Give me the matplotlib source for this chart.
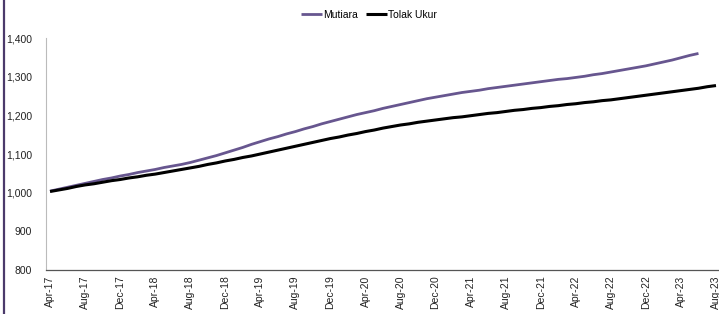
import matplotlib
matplotlib.use("Agg")
import matplotlib.pyplot as plt
from matplotlib.lines import Line2D

plt.rcParams['font.family'] = ['Liberation Sans', 'DejaVu Sans']

# Data: monthly index values, Apr-17 onwards
mutiara = [
    1004, 1009, 1014, 1019, 1024, 1029, 1034, 1038, 1043, 1047, 1052, 1056,
    1060, 1065, 1069, 1073, 1078, 1084, 1090, 1096, 1103, 1110, 1117, 1125,
    1132, 1139, 1145, 1152, 1158, 1165, 1171, 1178, 1184, 1190, 1196, 1202,
    1207, 1212, 1218, 1223, 1228, 1233, 1238, 1243, 1247, 1251, 1255, 1259,
    1262, 1265, 1269, 1272, 1275, 1278, 1281, 1284, 1287, 1290, 1293, 1295,
    1298, 1301, 1305, 1308, 1312, 1316, 1320, 1324, 1328, 1333, 1338, 1343,
    1349, 1355, 1360,
]
tolak_ukur = [
    1003, 1007, 1011, 1016, 1020, 1023, 1027, 1031, 1034, 1038, 1041, 1045,
    1048, 1052, 1056, 1060, 1064, 1068, 1073, 1077, 1082, 1086, 1091, 1095,
    1100, 1105, 1110, 1115, 1120, 1125, 1130, 1135, 1140, 1144, 1149, 1153,
    1158, 1162, 1167, 1171, 1175, 1178, 1182, 1185, 1188, 1191, 1194, 1196,
    1199, 1202, 1205, 1207, 1210, 1213, 1215, 1218, 1220, 1223, 1225, 1228,
    1230, 1233, 1235, 1238, 1240, 1243, 1246, 1249, 1252, 1255, 1258, 1261,
    1264, 1267, 1270, 1274, 1277,
]
tick_labels = [
    "Apr-17", "Aug-17", "Dec-17", "Apr-18", "Aug-18", "Dec-18", "Apr-19",
    "Aug-19", "Dec-19", "Apr-20", "Aug-20", "Dec-20", "Apr-21", "Aug-21",
    "Dec-21", "Apr-22", "Aug-22", "Dec-22", "Apr-23", "Aug-23",
]
y_ticks = [800, 900, 1000, 1100, 1200, 1300, 1400]

fig = plt.figure(figsize=(7.19, 3.14), dpi=100)
ax = fig.add_axes([46 / 719, 44 / 314, 694 / 719, 232 / 314])

ax.plot(range(len(mutiara)), mutiara, color='#67568F', lw=2.0,
        solid_capstyle='butt', label='Mutiara')
ax.plot(range(len(tolak_ukur)), tolak_ukur, color='black', lw=2.2,
        solid_capstyle='butt', label='Tolak Ukur')

ax.set_ylim(800, 1400)
ax.set_xlim(-0.46, 78.74)
ax.set_yticks(y_ticks)
ax.set_yticklabels([f"{v:,}" for v in y_ticks])
ax.set_xticks(range(0, 4 * len(tick_labels), 4))
ax.set_xticklabels(tick_labels, rotation=90)
ax.tick_params(axis='both', length=0, labelsize=7.5, colors='#222222')
ax.tick_params(axis='y', pad=10)
ax.tick_params(axis='x', pad=4)

for s in ['top', 'right']:
    ax.spines[s].set_visible(False)
ax.spines['left'].set_color('#BBBBBB')
ax.spines['left'].set_linewidth(0.8)
ax.spines['bottom'].set_color('#555555')
ax.spines['bottom'].set_linewidth(0.9)

fig.legend(loc='center', bbox_to_anchor=(369 / 719, 1 - 15 / 314), ncol=2,
           frameon=False, fontsize=7.5, handlelength=2.0, handletextpad=0.1,
           columnspacing=0.8)

# purple frame edge on the left
fig.add_artist(Line2D([4 / 719, 4 / 719], [0, 1], color='#4B3A6B', lw=1.6,
                      transform=fig.transFigure))

fig.savefig('out.png', dpi=100)
